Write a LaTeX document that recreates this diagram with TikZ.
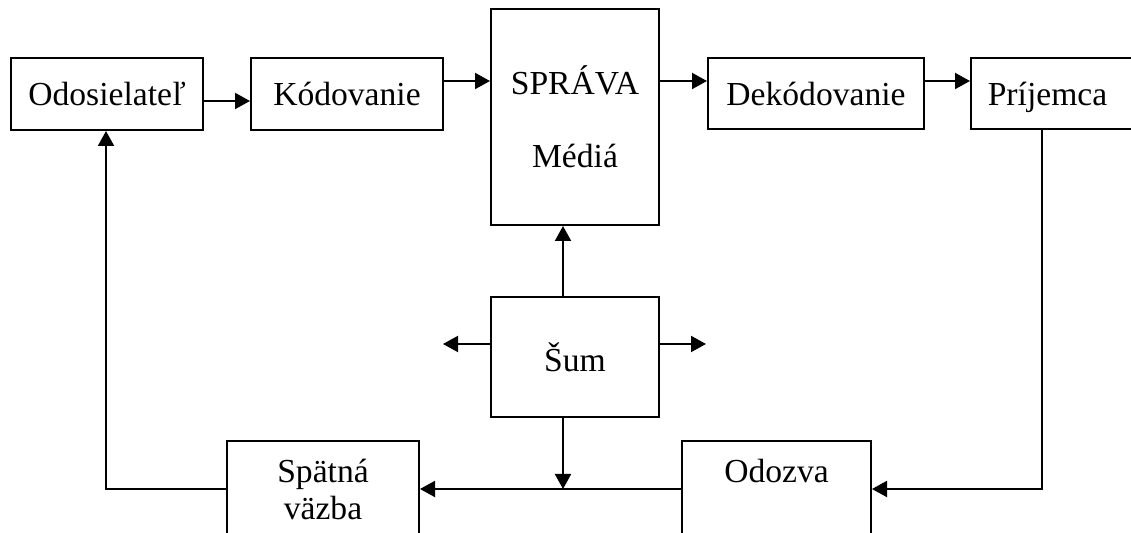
\documentclass[tikz,border=0pt]{standalone}
\usepackage{fontspec}
\setmainfont{Liberation Serif}
\usetikzlibrary{arrows.meta}
\begin{document}
\begin{tikzpicture}[x=0.5pt,y=-0.5pt,
  box/.style={draw, line width=1pt, rectangle, anchor=north west, inner sep=0pt,
    align=center, font=\fontsize{16.8pt}{18.5pt}\selectfont},
  link/.style={line width=1pt},
  arr/.style={line width=1pt, -{Triangle[length=7.5pt,width=8pt]}}]
  \useasboundingbox (0,0) rectangle (1131,533);
  \clip (0,0) rectangle (1131,533);

  % top row of the communication chain
  \node[box, minimum width=96pt, minimum height=36pt] (odo) at (10,57) {Odosielateľ};
  \node[box, minimum width=96pt, minimum height=36pt] (kod) at (250,57) {Kódovanie};
  \node[box, minimum width=84pt, minimum height=108pt] (spr) at (490,8) {SPRÁVA\\[18pt]Médiá};
  \node[box, minimum width=108pt, minimum height=35.5pt] (dek) at (707,57) {Dekódovanie};
  \node[box, minimum width=90pt, minimum height=35.5pt, text depth=0pt] (pri) at (970,57) {Príjemca\hspace*{13.5pt}};

  % noise and the feedback loop
  \node[box, minimum width=84pt, minimum height=60pt] (sum) at (490,296) {Šum};
  \node[box, minimum width=96pt, minimum height=48pt] (spat) at (226,440) {Spätná\\väzba};
  \node[box, minimum width=94.5pt, minimum height=48pt] (odz) at (681,440) {Odozva\\\mbox{}};

  \coordinate (noiseL) at (443,344);
  \coordinate (noiseR) at (706,344);

  % forward connectors
  \draw[arr] (odo.east |- 0,101) -- (kod.west |- 0,101);
  \draw[arr] (kod.east |- 0,81) -- (spr.west |- 0,81);
  \draw[arr] (spr.east |- 0,81) -- (dek.west |- 0,81);
  \draw[arr] (dek.east |- 0,81) -- (pri.west |- 0,81);

  % response and feedback
  \draw[arr] (1042,0 |- pri.south) |- (odz.east);
  \draw[arr] (odz.west) -- (spat.east);
  \draw[arr] (spat.west) -| (106,0 |- odo.south);

  % noise influences
  \draw[arr] (563,0 |- sum.north) -- (563,0 |- spr.south);
  \draw[arr] (563,0 |- sum.south) -- (563,0 |- spat.east);
  \draw[arr] (sum.west |- noiseL) -- (noiseL);
  \draw[arr] (sum.east |- noiseR) -- (noiseR);
\end{tikzpicture}
\end{document}
